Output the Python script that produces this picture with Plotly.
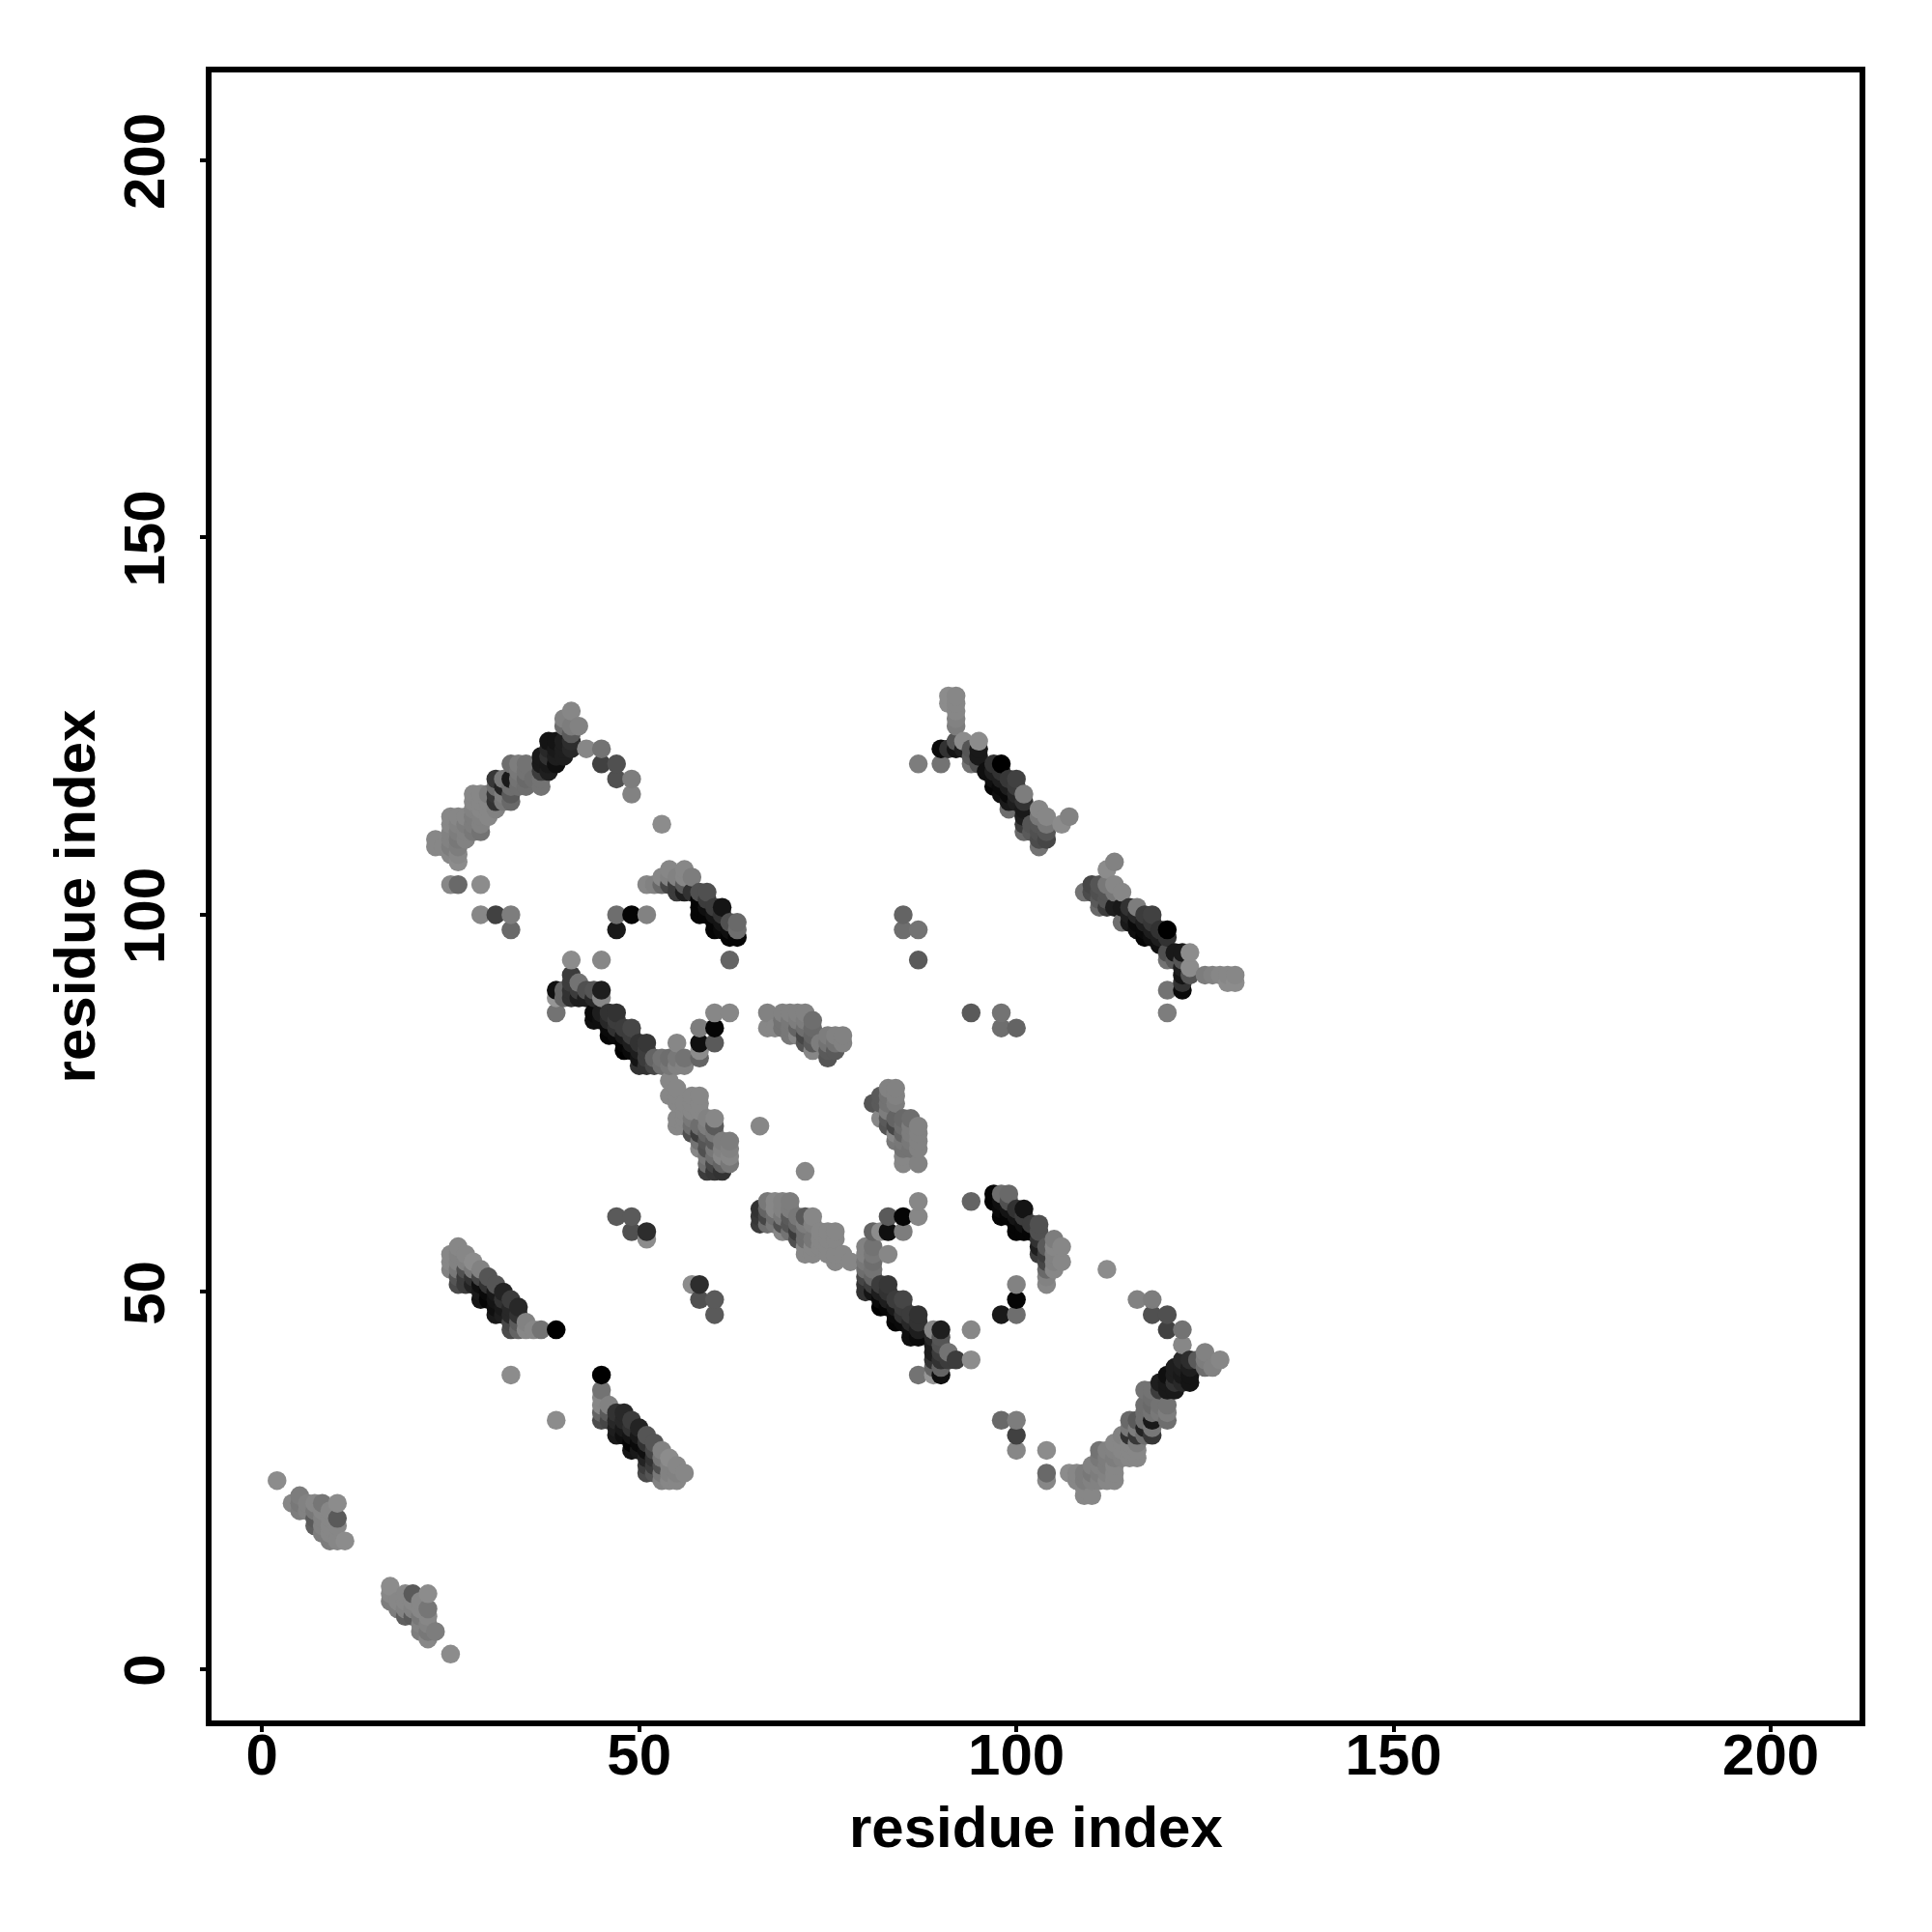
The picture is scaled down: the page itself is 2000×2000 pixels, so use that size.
import plotly.graph_objects as go

tick_values = [0, 50, 100, 150, 200]
axis_label = "residue index"

# (residue a, residue b, grey level); the contact map is symmetric
seg_a = [(17,9,125),(17,10,135),(17,11,140),(18,8,125),(18,9,135),(19,7,95),(19,8,130),(19,9,135),(19,10,135),
 (20,7,90),(20,8,130),(20,9,135),(20,10,90),(21,5,125),(21,6,130),(21,7,120),(21,8,135),(21,9,135),
 (22,4,135),(22,5,120),(22,6,130),(22,7,135),(22,8,118),(22,10,140),(23,5,125),(25,2,140)]
seg_b = [(33,39,140),(45,33,75),(45,34,100),(45,35,135),(45,36,135),(45,37,115),(45,39,0),(46,33,70),(46,34,90),(46,35,130),
 (47,31,25),(47,32,30),(47,33,40),(47,34,50),(48,31,15),(48,32,25),(48,33,40),(48,34,40),
 (49,29,20),(49,30,5),(49,31,20),(49,32,50),(49,33,60),(50,29,25),(50,30,10),(50,31,25),(50,32,35),
 (51,26,75),(51,27,60),(51,28,35),(51,29,15),(51,30,50),(51,31,85),(52,26,85),(52,27,60),(52,28,50),(52,29,70),(52,30,85),
 (53,25,130),(53,26,120),(53,27,80),(53,28,120),(53,29,130),(54,25,135),(54,26,130),(54,27,130),(54,28,140),
 (55,25,135),(55,26,130),(55,27,135),(56,26,135)]
seg_d = [(47,60,90),(49,60,90),(49,58,80),(51,58,45),(51,57,140)]
seg_e = [(23,109,135),(23,110,135),(24,109,135),(25,104,135),(25,108,135),(25,109,125),(25,110,130),(25,111,130),(25,112,135),(25,113,135),
 (26,104,105),(26,107,140),(26,108,135),(26,109,125),(26,110,120),(26,111,125),(26,112,130),(26,113,135),
 (27,110,130),(27,111,130),(27,112,125),(27,113,135),(28,111,120),(28,112,125),(28,113,125),(28,114,130),(28,115,135),(28,116,135),
 (29,100,135),(29,104,140),(29,111,115),(29,112,130),(29,113,130),(29,114,135),(29,115,135),(29,116,135),
 (30,113,135),(30,114,135),(30,115,135),(30,116,125),(31,100,65),(31,114,130),(31,115,50),(31,116,55),(31,117,110),(31,118,55),
 (32,115,120),(32,116,125),(32,117,35),(32,118,120),(33,98,105),(33,100,125),(33,115,105),(33,116,90),(33,117,110),(33,118,25),(33,120,110),
 (34,117,110),(34,118,115),(34,119,120),(34,120,125),(35,117,110),(35,118,105),(35,119,115),(35,120,115),(36,118,110),
 (37,117,115),(37,118,115),(37,119,60),(37,120,25),(37,121,25),(38,119,30),(38,120,25),(38,121,50),(38,122,40),(38,123,20),
 (39,120,15),(39,121,30),(39,122,25),(39,123,20),(40,121,30),(40,122,30),(40,123,30),(40,125,110),(40,126,130),
 (41,122,40),(41,123,45),(41,124,90),(41,125,125),(41,127,135),(42,125,130),(43,122,135),(45,122,115),(45,120,65),
 (47,120,80),(47,118,80),(49,118,125),(49,116,130),(53,112,140)]
seg_f = [(51,104,135),(52,104,130),(53,104,105),(53,105,135),(54,104,70),(54,105,130),(54,106,135),(55,103,60),(55,104,60),(55,105,130),
 (56,103,30),(56,104,90),(56,105,135),(56,106,135),(57,103,50),(57,105,125),(58,100,5),(58,101,5),(58,102,5),(58,103,80),
 (59,100,5),(59,101,15),(59,102,60),(59,103,80),(60,98,5),(60,99,5),(60,100,20),(60,101,60),(61,98,10),(61,99,20),(61,100,50),(61,101,20),
 (62,94,100),(62,97,5),(62,98,15),(62,99,80),(63,97,5),(63,98,110),(63,99,105)]
seg_g = [(39,87,115),(39,89,150),(39,90,15),(40,89,100),(40,90,100),(41,89,50),(41,90,50),(41,91,60),(41,92,60),(41,94,140),
 (42,89,30),(42,90,60),(42,91,115),(43,89,30),(43,90,80),(44,86,15),(44,87,10),(44,89,40),(44,90,85),
 (45,86,15),(45,87,30),(45,89,135),(45,90,30),(45,94,135),(46,84,5),(46,85,10),(46,86,40),(46,87,50),
 (47,84,10),(47,85,50),(47,86,60),(47,87,50),(48,82,0),(48,83,5),(48,84,25),(48,85,60),(49,82,10),(49,83,30),(49,84,60),(49,85,70),
 (50,80,50),(50,81,20),(50,82,30),(50,83,50),(51,80,50),(51,81,60),(51,82,60),(51,83,55),(52,80,70),(52,81,100),
 (53,80,110),(53,81,115),(54,80,120),(54,81,110),(55,80,130),(55,81,120),(55,83,135),(56,80,130),(56,81,115),
 (58,81,100),(58,82,140),(58,83,15),(58,85,125),(60,83,90),(60,85,5),(60,87,135),(62,87,135)]
seg_h = [(54,78,135),(54,76,135),(55,77,135),(55,76,135),(55,75,135),(55,73,135),(55,72,135),(56,75,135),(56,74,135),(56,73,135),(56,72,135),
 (57,76,135),(57,75,135),(57,74,135),(57,73,120),(57,72,110),(57,71,80),(58,76,135),(58,75,135),(58,74,135),(58,72,110),(58,71,60),(58,70,115),(58,69,135),
 (59,73,130),(59,72,125),(59,71,100),(59,70,85),(59,69,80),(59,68,120),(59,67,110),(59,66,60),
 (60,73,135),(60,72,90),(60,71,120),(60,70,90),(60,69,120),(60,68,110),(60,67,70),(60,66,55),
 (61,70,125),(61,69,130),(61,68,135),(61,67,100),(61,66,50),(62,70,125),(62,69,130),(62,68,135),(62,67,120),(72,66,135)]
seg_j = [(67,85,135),(67,87,130),(68,85,135),(69,85,115),(69,86,115),(69,87,130),(70,84,120),(70,85,120),(70,86,120),(70,87,130),
 (71,84,135),(71,85,100),(71,86,125),(71,87,130),(72,83,85),(72,84,70),(72,85,110),(72,86,125),(72,87,130),
 (73,82,135),(73,83,90),(73,84,100),(73,85,105),(73,86,110),(74,83,125),(75,81,85),(75,82,90),(75,83,115),(75,84,125),
 (76,82,90),(76,83,115),(76,84,130),(77,83,130),(77,84,130)]
seg_n = [(87,120,125),(90,120,115),(90,122,10),(91,122,50),(91,128,140),(91,129,140),(92,122,20),(92,123,85),(92,125,125),(92,126,130),(92,127,135),(92,128,135),(92,129,135),
 (93,122,30),(93,123,140),(94,120,115),(94,121,90),(94,122,85),(95,120,80),(95,121,25),(95,122,25),(95,123,140),(96,119,15),
 (97,117,5),(97,118,15),(97,119,30),(97,120,50),(98,116,15),(98,117,10),(98,118,30),(98,119,50),(98,120,0),
 (99,114,110),(99,115,25),(99,116,10),(99,117,30),(99,118,55),(100,115,30),(100,116,40),(100,117,60),(100,118,65),
 (101,111,105),(101,112,60),(101,113,30),(101,114,25),(101,115,50),(101,116,125),(102,111,90),(102,112,85),
 (103,109,115),(103,110,75),(103,111,80),(103,112,85),(103,113,120),(103,114,135),(104,110,70),(104,111,85),(104,112,120),(104,113,135),
 (106,112,140),(107,113,130)]
seg_single = [(85,98,110),(85,100,100),(87,94,90),(87,98,115),(47,98,25),(47,100,110),(49,100,5),(51,100,130)]

contacts = seg_a + seg_b + seg_d + seg_e + seg_f + seg_g + seg_h + seg_j + seg_n + seg_single
both_ways = {}
for a, b, g in contacts:
    both_ways[(a, b)] = g
    both_ways[(b, a)] = g
ordered = sorted(both_ways)
xs = [p[0] for p in ordered]
ys = [p[1] for p in ordered]
cols = [f"rgb({both_ways[p]},{both_ways[p]},{both_ways[p]})" for p in ordered]

fig = go.Figure(go.Scatter(x=xs, y=ys, mode="markers",
                           marker=dict(size=19.5, color=cols, line=dict(width=0))))
font = dict(family="Liberation Sans", size=60, color="black", weight="bold")
axis = dict(tickmode="array", tickvals=tick_values, ticks="outside", ticklen=6, tickwidth=4, tickcolor="black",
            showline=True, linewidth=6, linecolor="black", mirror=True, showgrid=False, zeroline=False,
            tickfont=font, automargin=False)
fig.update_layout(width=2000, height=2000, margin=dict(l=219, r=75, t=75, b=219),
                  paper_bgcolor="white", plot_bgcolor="white", showlegend=False,
                  xaxis=dict(axis, range=[-6.68, 211.76], ticklabelstandoff=-28),
                  yaxis=dict(axis, range=[-6.79, 211.65], tickangle=-90, ticklabelstandoff=13, ticklabelshift=10,
                             title=dict(text=axis_label, font=font, standoff=0)),
                  annotations=[dict(text=axis_label, font=font, showarrow=False, xref="paper", yref="paper",
                                    x=0.5, y=-0.0648, xanchor="center", yanchor="middle")])
fig.write_html("out.html", post_script="document.body.style.margin='0';",
               config=dict(displayModeBar=False))
